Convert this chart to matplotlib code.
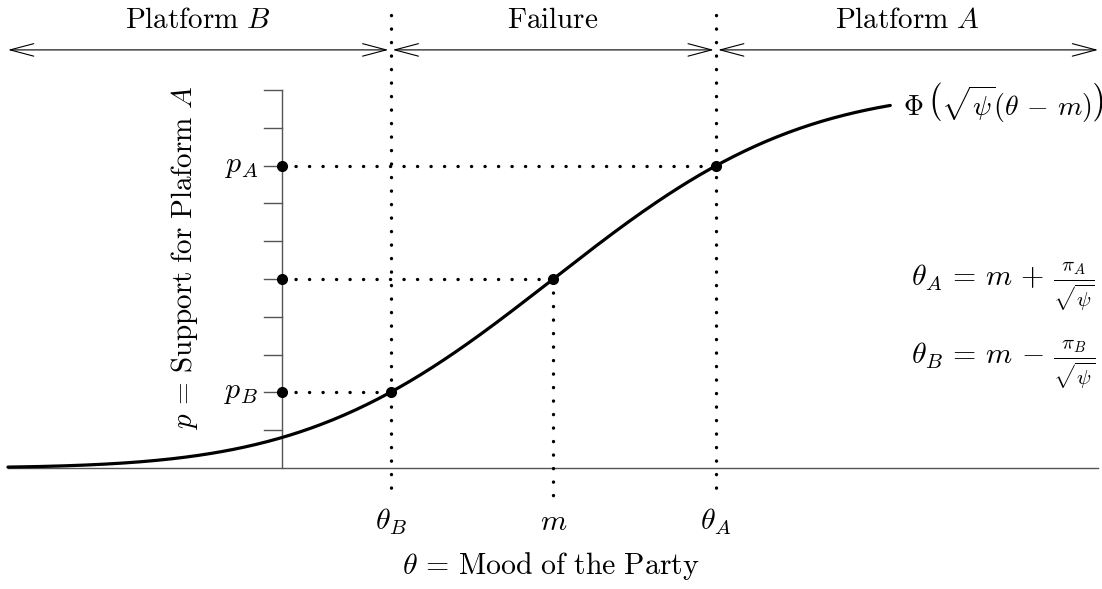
import math
import matplotlib
matplotlib.use("Agg")
import matplotlib.pyplot as plt
from matplotlib.patches import FancyArrowPatch

plt.rcParams['mathtext.fontset'] = 'cm'
plt.rcParams['font.family'] = 'DejaVu Serif'

# ---- data ----
m = 1.40            # mood at which support is one half
sqrt_psi = 1.0
p_A = 0.80
p_B = 0.20
theta_A = 2.24
theta_B = 0.56
p_mid = 0.50
y_ticks = [0.1, 0.2, 0.3, 0.4, 0.5, 0.6, 0.7, 0.8, 0.9, 1.0]
theta_min, theta_max = -1.415, 3.14
region_labels = [r'$\mathrm{Platform}\ B$', r'$\mathrm{Failure}$', r'$\mathrm{Platform}\ A$']
region_edges = [-1.415, 0.56, 2.24, 4.213]
point_labels = [r'$\theta_B$', r'$m$', r'$\theta_A$']

def Phi(z):
    return 0.5 * (1.0 + math.erf(z / math.sqrt(2.0)))

n = 400
thetas = [theta_min + (theta_max - theta_min) * i / (n - 1) for i in range(n)]
ps = [Phi(sqrt_psi * (t - m)) for t in thetas]

fig = plt.figure(figsize=(11.02, 5.89), dpi=100)
ax = fig.add_axes([0, 0, 1, 1])
ax.set_xlim(-1.456, 4.233)
ax.set_ylim(-0.320, 1.238)
ax.axis('off')

FS = 21.5
dot = dict(color='black', lw=2.4, linestyle=(0, (0.05, 4.0)), dash_capstyle='round')

# axes
ax.plot([region_edges[0], region_edges[-1]], [0, 0], color='#555555', lw=1.0)
ax.plot([0, 0], [0, 1.0], color='#555555', lw=1.0)
for yt in y_ticks:
    ax.plot([-0.093, 0], [yt, yt], color='#555555', lw=1.0)

# dotted guide lines
ax.plot([theta_B, theta_B], [1.198, -0.085], **dot)
ax.plot([theta_A, theta_A], [1.198, -0.085], **dot)
ax.plot([m, m], [p_mid, -0.085], **dot)
for th, pv in [(theta_A, p_A), (m, p_mid), (theta_B, p_B)]:
    ax.plot([0, th], [pv, pv], **dot)

# curve
ax.plot(thetas, ps, color='black', lw=2.3, solid_capstyle='round')

# points
ax.plot([0, 0, 0], [p_A, p_mid, p_B], 'o', color='black', ms=7)
ax.plot([theta_A, m, theta_B], [p_A, p_mid, p_B], 'o', color='black', ms=7)

# region arrows and labels
gap = 0.011
for i, lab in enumerate(region_labels):
    a, b = region_edges[i], region_edges[i + 1]
    a2 = a if i == 0 else a + gap
    b2 = b if i == len(region_labels) - 1 else b - gap
    arr = FancyArrowPatch((a2, 1.106), (b2, 1.106),
                          arrowstyle='<->,head_length=1.7,head_width=0.45',
                          mutation_scale=10, lw=0.8, color='black',
                          shrinkA=0, shrinkB=0)
    ax.add_patch(arr)
centers = [-0.436, m, 3.226]
for c, lab in zip(centers, region_labels):
    ax.text(c, 1.185, lab, ha='center', va='center', fontsize=FS - 0.5)

# labels
ax.text(-0.124, p_A, r'$p_A$', ha='right', va='center', fontsize=FS)
ax.text(-0.124, p_B, r'$p_B$', ha='right', va='center', fontsize=FS)
ax.text(-0.506, 0.556, r'$p\,=\,\mathrm{Support\ for\ Plaform}\ A$', rotation=90,
        ha='center', va='center', fontsize=FS - 0.5)
for th, lab in zip([theta_B, m, theta_A], point_labels):
    ax.text(th, -0.143, lab, ha='center', va='center', fontsize=FS)
ax.text(1.39, -0.258, r'$\theta\,=\,\mathrm{Mood\ of\ the\ Party}$', ha='center', va='center', fontsize=FS)
ax.text(3.206, 0.966, r'$\Phi\,\left(\sqrt{\psi}(\theta\,-\,m)\right)$', ha='left', va='center', fontsize=FS - 1.5)
ax.text(4.197, 0.479, r'$\theta_A\,=\,m\,+\,\frac{\pi_A}{\sqrt{\psi}}$', ha='right', va='center', fontsize=FS)
ax.text(4.197, 0.272, r'$\theta_B\,=\,m\,-\,\frac{\pi_B}{\sqrt{\psi}}$', ha='right', va='center', fontsize=FS)

fig.savefig('out.png', dpi=100)
